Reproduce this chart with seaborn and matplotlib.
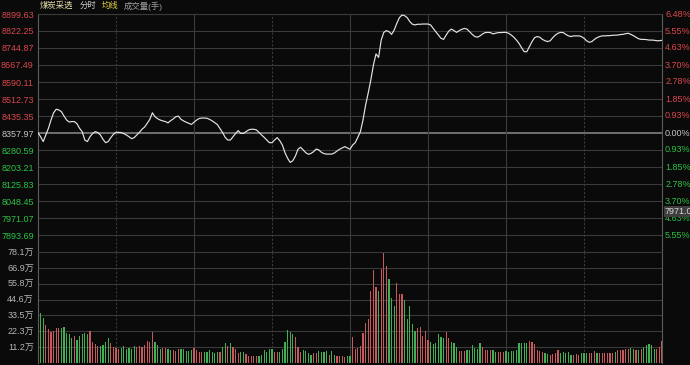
import numpy as np
import pandas as pd
import matplotlib
matplotlib.use('Agg')
import matplotlib.pyplot as plt
import seaborn as sns

# ---- data ----
price = [
    8360, 8341, 8319, 8349, 8379, 8417, 8450, 8466, 8463, 8455,
    8435, 8417, 8408, 8410, 8410, 8400, 8379, 8364, 8326, 8319,
    8341, 8356, 8364, 8360, 8349, 8329, 8314, 8319, 8337, 8352,
    8361, 8361, 8360, 8355, 8349, 8341, 8332, 8337, 8349, 8361,
    8375, 8385, 8402, 8420, 8450, 8432, 8423, 8417, 8413, 8410,
    8404, 8414, 8422, 8432, 8435, 8420, 8413, 8407, 8402, 8397,
    8407, 8417, 8424, 8426, 8426, 8425, 8420, 8413, 8405, 8396,
    8378, 8360, 8338, 8326, 8326, 8341, 8356, 8369, 8356, 8356,
    8364, 8372, 8375, 8375, 8372, 8361, 8349, 8338, 8326, 8314,
    8314, 8326, 8337, 8323, 8303, 8268, 8243, 8224, 8232, 8253,
    8284, 8293, 8281, 8268, 8261, 8265, 8273, 8285, 8281, 8270,
    8264, 8262, 8262, 8262, 8267, 8276, 8284, 8290, 8296, 8290,
    8284, 8303, 8314, 8338, 8364, 8417, 8485, 8540, 8599, 8667,
    8718, 8702, 8781, 8816, 8824, 8819, 8807, 8827, 8857, 8883,
    8895, 8892, 8883, 8865, 8853, 8850, 8853, 8853, 8854, 8854,
    8854, 8850, 8834, 8819, 8804, 8789, 8784, 8804, 8822, 8831,
    8824, 8816, 8824, 8830, 8834, 8831, 8819, 8807, 8797, 8794,
    8800, 8809, 8815, 8816, 8815, 8809, 8812, 8815, 8815, 8816,
    8816, 8812, 8804, 8794, 8781, 8766, 8746, 8728, 8728, 8751,
    8774, 8792, 8797, 8794, 8784, 8778, 8774, 8778, 8792, 8804,
    8812, 8816, 8815, 8807, 8800, 8797, 8800, 8800, 8800, 8797,
    8789, 8778, 8771, 8774, 8784, 8792, 8797, 8800, 8800, 8801,
    8801, 8803, 8803, 8804, 8806, 8807, 8810, 8812, 8807, 8801,
    8794, 8787, 8784, 8784, 8783, 8781, 8781, 8780, 8778, 8778,
    8780,
]

# volume in 万手, with bar colour code per row (r = up, g = down)
volume = [
    18.0, 35.0, 31.7, 27.0, 24.0, 21.7, 22.7, 24.6, 24.6, 24.6,
    25.0, 21.0, 20.3, 17.4, 19.0, 16.2, 19.3, 20.3, 21.0, 20.3,
    22.2, 14.5, 13.1, 12.2, 12.2, 12.7, 14.5, 17.9, 13.8, 11.5,
    10.7, 9.8, 10.7, 11.9, 10.0, 10.7, 9.8, 12.2, 11.5, 12.2,
    11.5, 12.7, 15.5, 14.5, 21.7, 14.5, 12.7, 10.2, 10.7, 10.9,
    9.8, 9.5, 9.1, 8.6, 9.8, 9.8, 10.2, 8.6, 8.6, 9.0,
    10.7, 9.1, 8.0, 7.6, 7.6, 7.6, 8.8, 7.6, 6.7, 7.6,
    8.0, 11.5, 14.2, 12.2, 13.8, 11.5, 10.2, 6.9, 7.6, 7.6, 6.2,
    4.8, 4.8, 4.8, 4.8, 4.8, 5.5, 9.1, 7.9, 9.8, 10.2,
    7.9, 7.9, 7.9, 10.2, 15.0, 22.9, 21.5, 20.3, 18.4, 11.0,
    7.9, 9.5, 8.6, 6.7, 5.9, 7.2, 6.7, 8.4, 7.4, 7.4,
    8.4, 5.9, 8.4, 5.9, 4.8, 4.8, 4.8, 4.3, 5.0, 5.0,
    18.6, 10.2, 10.5, 12.2, 21.0, 28.1, 31.0, 50.9, 65.2, 53.7,
    50.9, 66.4, 77.6, 68.3, 59.2, 45.6, 40.1, 56.4, 48.9, 48.3,
    44.4, 31.3, 40.1, 27.4, 22.7, 24.6, 25.3, 19.3, 22.7, 16.2,
    15.0, 13.1, 13.8, 20.3, 18.6, 17.4, 21.5, 17.4, 15.0,
    14.3, 11.0, 8.6, 8.6, 8.6, 9.5, 9.5, 12.7, 10.7, 10.2,
    13.8, 11.5, 9.5, 9.1, 9.1, 9.5, 7.9, 7.9, 7.9, 7.9,
    8.4, 7.9, 8.4, 8.6, 9.1, 13.8, 13.8, 14.3, 13.8, 15.8,
    15.0, 13.4, 9.5, 8.6, 7.9, 6.7, 6.2, 5.5, 6.0, 7.2,
    9.1, 7.2, 7.9, 7.2, 7.9, 5.5,
    5.5, 6.0, 5.5, 6.7, 6.7, 7.0, 7.2, 6.7, 8.4, 6.7,
    7.2, 7.2, 7.2, 6.7, 6.7, 6.7, 7.9, 9.1, 9.1, 9.5,
    10.2, 10.2, 10.7, 10.2, 9.1, 9.1, 10.2, 11.0, 12.7, 13.1,
    12.7, 10.2, 10.2, 11.5, 15.6,
]
direction_rows = [
    'rggrrrrrrg', 'ggggrggggg', 'rrrrggggrr', 'rrggggggrr',
    'rrrrrgggrr', 'ggrrrggggg', 'rrrrgggggg', 'rggrgrrrggr',
    'rrrrgggggg', 'rrggggggrr', 'rggggrrggg', 'grggrrrrgg',
    'rrrrrrrrrr', 'grrrgggrrr', 'gggggrrrrr', 'ggggggrrg',
    'ggrrrggggg', 'grrrrggrrr', 'gggggggggr', 'rrrrrggrrr',
    'rggggg', 'rrrgggrrrg', 'rrrrrrgrrr', 'rrggrgrggg',
    'ggrrr',
]

price_ticks = [8899.63, 8822.25, 8744.87, 8667.49, 8590.11, 8512.73, 8435.35,
               8357.97, 8280.59, 8203.21, 8125.83, 8048.45, 7971.07, 7893.69]
price_labels = ['8899.63', '8822.25', '8744.87', '8667.49', '8590.11', '8512.73', '8435.35',
                '8357.97', '8280.59', '8203.21', '8125.83', '8048.45', '7971.07', '7893.69']
pct_labels = ['6.48%', '5.55%', '4.63%', '3.70%', '2.78%', '1.85%', '0.93%',
              '0.00%', '0.93%', '1.85%', '2.78%', '3.70%', '4.63%', '5.55%']
vol_ticks = [78.1, 66.9, 55.8, 44.6, 33.5, 22.3, 11.2]
vol_labels = ['78.1万', '66.9万', '55.8万', '44.6万', '33.5万', '22.3万', '11.2万']
base_price = 8357.97
price_low = 7816.31
time_lines = [30, 60, 90, 120, 150, 180, 210]
dotted_lines = [30, 90, 210]

BG = '#0a0a0a'
GRID = '#3a3a3a'
RED = '#d9474c'
GREEN = '#2fc147'
GREY = '#c4c4c4'

sns.set_theme(style='dark', rc={'axes.facecolor': BG, 'figure.facecolor': BG})
plt.rcParams['font.family'] = ['Liberation Sans', 'Noto Sans CJK SC', 'DejaVu Sans']

direction = list(''.join(direction_rows))
minutes = np.arange(len(price))
vol_df = pd.DataFrame({'minute': np.arange(len(volume)), 'vol': volume, 'dir': direction})

fig = plt.figure(figsize=(6.9, 3.65), dpi=100)
ax_p = fig.add_axes([38 / 690, 1 - 252 / 365, 624 / 690, 238 / 365])
ax_v = fig.add_axes([38 / 690, 1 - 363 / 365, 624 / 690, 111 / 365])

# price panel
for t in price_ticks:
    if t == base_price:
        ax_p.axhline(t, color='#777777', lw=1.3, zorder=1)
    else:
        ax_p.axhline(t, color=GRID, lw=0.8, zorder=1)
for ax in (ax_p, ax_v):
    for m in time_lines:
        ls = (0, (2, 1.5)) if m in dotted_lines else '-'
        ax.axvline(m, color=GRID, lw=0.8, ls=ls, zorder=1)

sns.lineplot(x=minutes, y=price, ax=ax_p, color='#e4e4e4', linewidth=0.85, zorder=3)
ax_p.set_xlim(0, 240)
ax_p.set_ylim(price_low, price_ticks[0])
ax_p.set_xticks([])
ax_p.set_yticks(price_ticks)
ax_p.set_yticklabels(price_labels)
ax_p.tick_params(axis='y', length=0, pad=3, labelsize=6.5)
for lab, t in zip(ax_p.get_yticklabels(), price_ticks):
    lab.set_color(RED if t > base_price else (GREY if t == base_price else GREEN))
for lab, t in zip(pct_labels, price_ticks):
    c = RED if t > base_price else (GREY if t == base_price else GREEN)
    ax_p.text(1.005, t, lab, transform=ax_p.get_yaxis_transform(), color=c,
              fontsize=6.5, va='center', ha='left')
ax_p.set_xlabel('')
ax_p.set_ylabel('')

# volume panel
for t in vol_ticks[1:]:
    ax_v.axhline(t, color=GRID, lw=0.8, zorder=1)
sns.barplot(data=vol_df, x='minute', y='vol', hue='dir', palette={'r': RED, 'g': GREEN},
            native_scale=True, dodge=False, width=0.5, errorbar=None, legend=False,
            linewidth=0, ax=ax_v, zorder=2)
ax_v.set_xlim(0, 240)
ax_v.set_ylim(0, 78.12)
ax_v.set_xticks([])
ax_v.set_yticks(vol_ticks)
ax_v.set_yticklabels(vol_labels)
ax_v.tick_params(axis='y', length=0, pad=3, labelsize=6.5, labelcolor='#b4b4b4')
ax_v.set_xlabel('')
ax_v.set_ylabel('')

for ax in (ax_p, ax_v):
    ax.set_facecolor(BG)
    for side in ('left', 'right'):
        ax.spines[side].set_visible(True)
        ax.spines[side].set_color('#5c5c5c')
        ax.spines[side].set_linewidth(0.8)
    ax.spines['bottom'].set_visible(False)
    ax.spines['top'].set_visible(True)
    ax.spines['top'].set_color(GRID)
    ax.spines['top'].set_linewidth(0.8)

# header
fig.text(40 / 690, 1 - 6 / 365, '煤炭采选', color='#e6e0b0', fontsize=6, va='center')
fig.text(80 / 690, 1 - 6 / 365, '分时', color='#d0d0d0', fontsize=6, va='center')
fig.text(102 / 690, 1 - 6 / 365, '均线', color='#e2d23c', fontsize=6, va='center')
fig.text(124 / 690, 1 - 6 / 365, '成交量(手)', color='#a0a0a0', fontsize=6, va='center')

# cursor price tag on the right axis
fig.text(665 / 690, 1 - 211.5 / 365, '7971.0', color='#d8d8d8', fontsize=6.5, va='center',
         bbox=dict(boxstyle='square,pad=0.15', facecolor='#3e3e3e', edgecolor='none'))

fig.savefig('out.png', dpi=100, facecolor=BG)
